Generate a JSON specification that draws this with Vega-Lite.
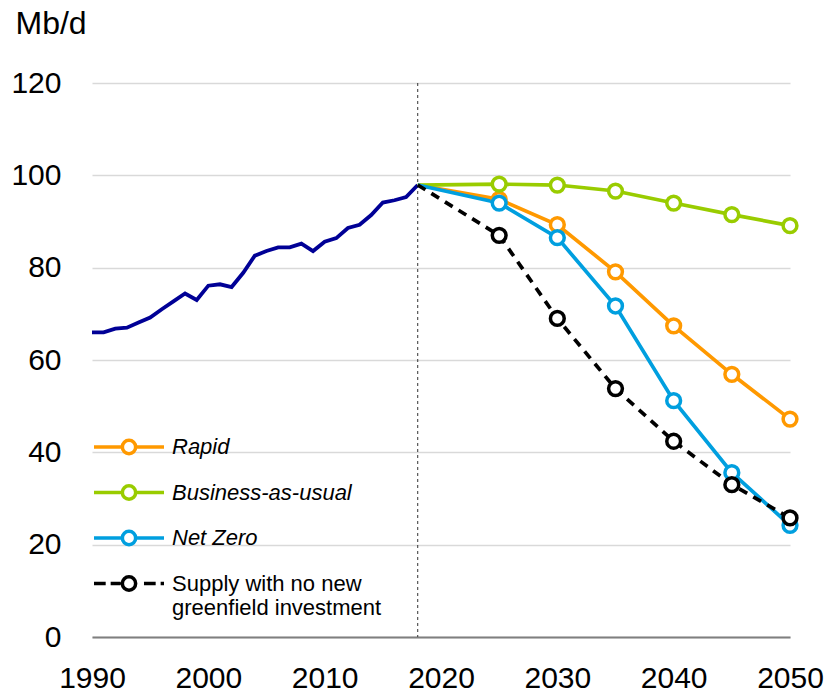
{
  "$schema": "https://vega.github.io/schema/vega-lite/v6.json",
  "width": 698,
  "height": 554,
  "autosize": {"type": "none"},
  "padding": {"left": 92, "top": 83, "right": 41, "bottom": 56},
  "background": "white",
  "config": {
    "view": {"stroke": null},
    "font": "Liberation Sans",
    "axis": {"labelColor": "#000000", "titleColor": "#000000", "labelFont": "Liberation Sans", "titleFont": "Liberation Sans"}
  },
  "datasets": {
    "history": [
      {"year": 1990, "value": 66.0}, {"year": 1991, "value": 66.0}, {"year": 1992, "value": 66.8},
      {"year": 1993, "value": 67.0}, {"year": 1994, "value": 68.1}, {"year": 1995, "value": 69.2},
      {"year": 1996, "value": 71.0}, {"year": 1997, "value": 72.7}, {"year": 1998, "value": 74.4},
      {"year": 1999, "value": 73.0}, {"year": 2000, "value": 76.1}, {"year": 2001, "value": 76.4},
      {"year": 2002, "value": 75.8}, {"year": 2003, "value": 78.9}, {"year": 2004, "value": 82.6},
      {"year": 2005, "value": 83.6}, {"year": 2006, "value": 84.4}, {"year": 2007, "value": 84.4},
      {"year": 2008, "value": 85.2}, {"year": 2009, "value": 83.6}, {"year": 2010, "value": 85.6},
      {"year": 2011, "value": 86.4}, {"year": 2012, "value": 88.6}, {"year": 2013, "value": 89.3},
      {"year": 2014, "value": 91.4}, {"year": 2015, "value": 94.1}, {"year": 2016, "value": 94.6},
      {"year": 2017, "value": 95.3}, {"year": 2018, "value": 97.9}
    ],
    "scenarios": [
      {"series": "Rapid", "year": 2018, "value": 97.9},
      {"series": "Rapid", "year": 2025, "value": 94.8},
      {"series": "Rapid", "year": 2030, "value": 89.3},
      {"series": "Rapid", "year": 2035, "value": 79.1},
      {"series": "Rapid", "year": 2040, "value": 67.4},
      {"series": "Rapid", "year": 2045, "value": 56.9},
      {"series": "Rapid", "year": 2050, "value": 47.2},
      {"series": "Business-as-usual", "year": 2018, "value": 97.9},
      {"series": "Business-as-usual", "year": 2025, "value": 98.1},
      {"series": "Business-as-usual", "year": 2030, "value": 97.9},
      {"series": "Business-as-usual", "year": 2035, "value": 96.6},
      {"series": "Business-as-usual", "year": 2040, "value": 94.0},
      {"series": "Business-as-usual", "year": 2045, "value": 91.5},
      {"series": "Business-as-usual", "year": 2050, "value": 89.1},
      {"series": "Net Zero", "year": 2018, "value": 97.9},
      {"series": "Net Zero", "year": 2025, "value": 94.0},
      {"series": "Net Zero", "year": 2030, "value": 86.5},
      {"series": "Net Zero", "year": 2035, "value": 71.7},
      {"series": "Net Zero", "year": 2040, "value": 51.2},
      {"series": "Net Zero", "year": 2045, "value": 35.6},
      {"series": "Net Zero", "year": 2050, "value": 24.2},
      {"series": "Supply with no new greenfield investment", "year": 2018, "value": 97.9},
      {"series": "Supply with no new greenfield investment", "year": 2025, "value": 87.0},
      {"series": "Supply with no new greenfield investment", "year": 2030, "value": 69.0},
      {"series": "Supply with no new greenfield investment", "year": 2035, "value": 53.8},
      {"series": "Supply with no new greenfield investment", "year": 2040, "value": 42.4},
      {"series": "Supply with no new greenfield investment", "year": 2045, "value": 33.0},
      {"series": "Supply with no new greenfield investment", "year": 2050, "value": 25.8}
    ],
    "marker": [{"year": 2018}]
  },
  "layer": [
    {
      "data": {"name": "marker"},
      "mark": {"type": "rule", "stroke": "#333333", "strokeWidth": 1, "strokeDash": [3, 3]},
      "encoding": {
        "x": {
          "field": "year", "type": "quantitative",
          "scale": {"domain": [1990, 2050], "nice": false, "zero": false},
          "axis": {
            "values": [1990, 2000, 2010, 2020, 2030, 2040, 2050], "format": "d", "title": null,
            "grid": false, "ticks": false, "domain": true, "domainColor": "#7f7f7f", "domainWidth": 2,
            "labelFontSize": 30, "labelPadding": 26, "labelFlush": false, "labelOverlap": false
          }
        }
      }
    },
    {
      "data": {"name": "history"},
      "mark": {"type": "line", "stroke": "#000096", "strokeWidth": 3.8},
      "encoding": {
        "x": {"field": "year", "type": "quantitative"},
        "y": {
          "field": "value", "type": "quantitative",
          "scale": {"domain": [0, 120], "nice": false},
          "axis": {
            "values": [0, 20, 40, 60, 80, 100, 120], "title": "Mb/d", "titleAngle": 0,
            "titleAlign": "left", "titleBaseline": "alphabetic", "titleX": -77, "titleY": -50,
            "titleFontSize": 32, "titleFontWeight": "normal",
            "grid": true, "gridColor": "#d9d9d9", "gridWidth": 1.5, "ticks": false, "domain": false,
            "labelFontSize": 30, "labelPadding": 31
          }
        }
      }
    },
    {
      "data": {"name": "scenarios"},
      "transform": [{"filter": "datum.series !== 'Supply with no new greenfield investment'"}],
      "mark": {"type": "line", "strokeWidth": 3.7},
      "encoding": {
        "x": {"field": "year", "type": "quantitative"},
        "y": {"field": "value", "type": "quantitative"},
        "stroke": {
          "field": "series", "type": "nominal",
          "scale": {
            "domain": ["Rapid", "Business-as-usual", "Net Zero", "Supply with no new greenfield investment"],
            "range": ["#ff9900", "#99cc00", "#009fdf", "#000000"]
          }
        }
      }
    },
    {
      "data": {"name": "scenarios"},
      "transform": [{"filter": "datum.series === 'Supply with no new greenfield investment'"}],
      "mark": {"type": "line", "strokeWidth": 3.7, "strokeDash": [9, 7]},
      "encoding": {
        "x": {"field": "year", "type": "quantitative"},
        "y": {"field": "value", "type": "quantitative"},
        "stroke": {"field": "series", "type": "nominal"}
      }
    },
    {
      "data": {"name": "scenarios"},
      "transform": [{"filter": "datum.year > 2018"}],
      "mark": {"type": "point", "shape": "circle", "filled": true, "fill": "white", "size": 190, "strokeWidth": 3.5, "opacity": 1},
      "encoding": {
        "x": {"field": "year", "type": "quantitative"},
        "y": {"field": "value", "type": "quantitative"},
        "stroke": {
          "field": "series", "type": "nominal",
          "legend": {
            "title": null, "orient": "none", "legendX": 26, "legendY": 353, "direction": "vertical",
            "padding": 0, "rowPadding": 17.5, "symbolSize": 196, "symbolStrokeWidth": 3.5,
            "symbolFillColor": "white",
            "symbolType": {"expr": "datum.value === 'Supply with no new greenfield investment' ? 'M-5,0L-3.33,0M-2.62,0L-1.19,0M2.14,0L3.81,0M4.52,0L5,0M-0.95,0A0.95,0.95,0,1,1,0.95,0A0.95,0.95,0,1,1,-0.95,0' : 'M-5,0L-0.95,0M0.95,0L5,0M-0.95,0A0.95,0.95,0,1,1,0.95,0A0.95,0.95,0,1,1,-0.95,0'"},
            "labelFontStyle": {"expr": "datum.value === 'Supply with no new greenfield investment' ? 'normal' : 'italic'"},
            "labelFontSize": 22, "labelOffset": 32, "labelLimit": 0, "labelColor": "#000000",
            "labelExpr": "datum.label === 'Supply with no new greenfield investment' ? ['Supply with no new', 'greenfield investment'] : datum.label"
          }
        }
      }
    }
  ]
}
